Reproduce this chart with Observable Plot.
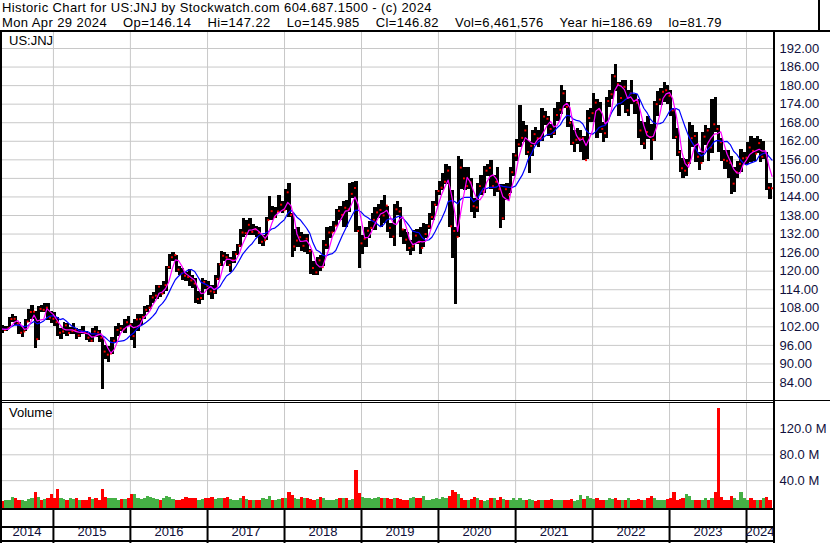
<!DOCTYPE html>
<html><head><meta charset="utf-8">
<script src="https://cdn.jsdelivr.net/npm/d3@7"></script>
<script src="https://cdn.jsdelivr.net/npm/@observablehq/plot@0.6"></script>
<style>
html,body{margin:0;padding:0;background:#fff;}
#wrap{position:relative;width:830px;height:543px;overflow:hidden;font-family:Arial,"Liberation Sans",sans-serif;background:#fff;}
.ln{position:absolute;background:#000;}
.hd{position:absolute;left:2px;font-size:13px;letter-spacing:0.4px;white-space:pre;line-height:15px;height:15px;color:#000;}
.pl{position:absolute;left:0;width:830px;}
.lbl{position:absolute;font-size:13px;line-height:15px;color:#000;}
</style></head><body>
<div id="wrap">
 <div id="price" class="pl" style="top:32px"></div>
 <div id="vol" class="pl" style="top:403px"></div>
 <div id="years" class="pl" style="top:509px"></div>
 <div class="hd" style="top:0">Historic Chart for US:JNJ by Stockwatch.com 604.687.1500 - (c) 2024</div>
 <div class="hd" style="top:15px">Mon Apr 29 2024    Op=146.14    Hi=147.22    Lo=145.985    Cl=146.82    Vol=6,461,576    Year hi=186.69    lo=81.79</div>
 <div class="lbl" style="left:9px;top:33px">US:JNJ</div>
 <div class="lbl" style="left:9px;top:405px">Volume</div>
 <div class="ln" style="left:0;top:30px;width:830px;height:2px"></div>
 <div class="ln" style="left:818px;top:0;width:2px;height:31px"></div>
 <div class="ln" style="left:0;top:30px;width:2px;height:513px"></div>
 <div class="ln" style="left:773px;top:30px;width:2px;height:513px"></div>
 <div class="ln" style="left:0;top:400px;width:830px;height:1px"></div>
 <div class="ln" style="left:0;top:402px;width:775px;height:1px"></div>
 <div class="ln" style="left:0;top:508px;width:775px;height:2px"></div>
 <div class="ln" style="left:0;top:526px;width:775px;height:2px"></div>
 <div class="ln" style="left:0;top:540px;width:775px;height:2px"></div>
</div>
<script>
// Half-monthly periods (1st-15th, 16th-end) from 2014-04-16 to 2024-04-30
const firstPeriod = [2014, 3, 16];
const lows = [
 98.0,100.0,100.5,101.5,103.5,102.5,99.5,98.5,100.5,103.5,104.5,95.1,97.5,106.5,106.5,104.0,103.0,
 102.0,99.0,98.0,99.5,99.0,99.5,99.5,98.0,98.5,99.5,97.5,96.8,97.0,98.5,97.0,81.8,91.5,90.5,93.0,97.0,99.0,100.5,100.0,102.0,
 97.5,95.0,100.5,102.5,104.5,106.5,107.5,109.5,111.0,111.5,112.5,113.5,120.5,123.0,119.5,118.5,117.0,116.5,115.0,114.5,109.5,109.3,110.5,114.0,
 112.0,110.8,112.5,117.0,121.5,123.0,121.5,119.5,122.5,125.0,127.5,131.0,131.5,131.5,131.5,131.0,128.5,128.0,130.0,136.5,136.5,137.0,139.0,138.5,
 139.5,137.5,124.5,126.5,127.5,126.5,126.0,125.5,119.0,118.6,118.7,120.0,121.5,127.0,130.5,132.5,134.5,136.5,134.0,134.0,139.0,143.5,132.5,121.0,
 125.5,127.5,130.5,133.5,133.0,137.0,134.0,135.5,132.5,130.5,128.0,138.0,131.0,128.5,126.5,125.0,126.5,128.5,125.5,127.5,130.5,133.5,136.5,141.0,
 144.5,146.0,148.0,134.0,124.0,109.2,131.0,146.5,146.0,146.5,139.0,137.0,139.0,144.5,145.0,150.5,146.5,144.0,145.5,133.7,136.5,143.0,145.0,150.5,
 155.5,160.0,161.5,157.5,151.5,157.0,160.5,160.0,162.0,167.0,163.5,163.0,164.0,168.5,170.5,172.5,166.5,160.5,158.5,161.0,158.5,155.7,156.0,168.0,
 168.0,163.0,164.5,161.5,163.0,173.0,175.5,178.0,170.0,173.5,171.0,170.0,174.0,170.5,163.0,160.5,159.5,162.5,155.7,162.0,170.0,173.5,174.5,174.0,
 170.0,162.5,157.0,152.0,150.1,150.5,154.5,160.0,155.0,152.5,155.0,160.5,155.5,158.0,165.0,158.5,155.5,153.0,150.0,144.95,145.5,150.0,152.0,154.5,
 154.5,155.0,155.5,158.0,155.0,156.0,146.0,143.1
];
const highs = [
 101.8,102.5,102.0,105.0,106.0,105.5,103.5,102.0,104.5,107.5,108.9,107.0,108.5,109.0,109.5,109.5,106.8,
 106.5,105.0,101.5,103.5,103.0,101.8,103.0,101.5,101.0,102.0,100.5,100.0,101.5,102.0,100.8,99.0,96.0,95.5,98.5,102.0,103.0,102.5,104.5,105.5,
 103.0,104.5,106.0,106.0,108.5,109.0,112.0,113.0,115.5,115.5,116.5,121.5,125.5,126.1,125.0,121.5,121.0,119.5,120.5,118.5,117.5,113.5,117.5,117.0,
 116.5,115.5,118.5,122.5,126.5,126.0,125.5,124.5,126.5,128.5,133.5,137.0,136.5,137.0,135.0,134.5,134.0,131.5,137.5,144.3,141.0,140.5,144.5,142.5,
 146.5,148.3,138.5,133.5,134.0,132.5,132.0,132.0,127.0,123.0,124.5,125.0,130.0,134.0,134.5,136.0,140.0,141.0,142.5,143.0,148.3,148.8,148.9,134.5,
 131.5,134.0,136.0,138.5,140.5,141.5,143.0,144.5,141.0,135.5,141.5,142.5,140.5,133.5,132.5,130.0,133.0,133.5,134.0,135.5,135.0,138.5,142.5,146.0,
 149.0,151.5,154.5,154.0,146.0,134.0,157.0,156.0,153.5,153.5,150.0,143.5,148.5,151.0,154.0,154.5,155.9,151.0,153.5,148.0,148.0,148.5,153.5,158.0,
 162.5,173.6,168.5,167.0,162.0,165.5,166.5,165.5,172.5,171.5,170.0,167.5,172.5,174.5,179.9,178.5,174.5,168.5,165.5,166.0,165.5,163.5,172.0,172.5,
 177.5,175.5,174.5,168.0,176.0,178.5,183.5,186.7,181.0,181.5,181.5,178.5,181.5,177.0,175.5,168.5,168.0,170.0,167.5,175.0,178.0,179.0,180.9,180.0,
 178.5,172.5,166.0,159.0,156.5,156.0,168.0,167.0,165.0,158.5,165.0,167.0,166.0,175.5,176.0,167.0,163.0,159.0,159.0,157.0,153.5,155.5,159.5,158.5,
 161.5,163.5,163.0,163.5,162.5,162.0,158.5,148.5
];
const closes = [
 101.3,101.0,101.5,104.5,104.6,103.0,100.1,100.5,103.7,106.8,106.9,98.0,107.8,107.5,108.2,105.0,104.6,
 103.5,100.1,100.5,102.5,100.0,100.6,101.0,99.2,100.5,100.1,98.5,97.5,100.5,100.2,98.5,94.0,93.0,93.4,97.5,101.0,101.5,101.2,103.5,102.7,
 99.0,104.4,104.5,105.2,107.5,108.2,111.5,112.1,115.0,112.7,115.5,121.3,124.5,125.2,120.5,119.3,118.5,118.1,117.0,116.0,111.0,111.3,116.5,115.2,
 113.5,113.2,117.5,122.2,125.0,124.5,122.0,123.5,125.5,128.2,132.5,132.3,135.0,132.7,133.5,132.4,129.5,130.0,136.5,139.4,137.5,139.3,141.5,139.7,
 145.5,138.2,128.0,129.9,131.0,128.2,130.5,126.5,121.0,119.6,123.5,121.3,128.5,132.5,132.5,134.7,139.5,138.2,140.5,140.0,145.0,146.9,133.0,129.0,
 130.5,133.1,134.0,136.6,139.0,139.8,138.0,141.2,134.0,131.2,140.0,139.3,133.5,130.2,127.5,128.0,131.5,129.4,127.5,132.0,134.5,137.5,141.5,145.9,
 147.0,148.9,152.5,134.5,133.0,131.1,153.5,150.0,147.5,148.7,141.0,140.6,147.5,145.8,152.5,153.4,147.5,148.9,146.5,137.1,146.5,144.7,152.0,157.4,
 161.0,163.1,165.5,158.5,160.5,164.3,163.0,162.7,170.0,169.3,166.0,164.7,170.5,172.2,177.5,173.1,168.0,161.5,162.5,162.9,163.0,155.9,169.5,171.1,
 174.5,172.3,166.0,164.6,175.0,177.2,183.0,180.5,176.0,179.6,172.0,177.5,175.0,174.5,165.5,161.3,165.0,163.4,162.5,174.0,175.5,178.0,178.5,176.7,
 172.0,163.4,158.5,153.3,152.5,155.0,163.0,163.7,157.0,155.0,163.5,165.5,160.0,167.5,166.0,161.7,156.0,155.7,155.0,148.3,152.0,154.7,156.5,156.7,
 160.0,158.9,158.0,161.4,157.0,158.2,147.0,146.8
];
// peak daily volume in each half-month, millions of shares
const volumes = [
 9,8,10,9,14,12,10,9,8,11,13,21,14,10,11,13,18,
 12,26,12,11,10,13,11,12,10,9,10,14,11,12,9,26,14,13,12,13,10,11,11,13,
 18,19,12,11,12,15,14,13,11,10,12,16,14,11,10,9,11,14,12,13,13,10,11,13,
 12,14,11,12,12,13,14,11,10,9,12,16,11,10,9,9,10,12,11,16,10,9,11,13,
 12,21,17,12,11,14,13,12,11,10,11,14,13,10,9,9,11,12,12,12,10,11,55,20,
 14,13,12,11,13,14,12,13,12,11,12,13,11,10,10,12,14,12,13,16,10,9,11,12,
 11,14,12,16,24,22,19,13,10,10,11,14,12,10,8,9,12,13,10,14,11,9,10,12,
 9,12,10,9,11,10,8,9,10,9,9,11,9,10,9,9,9,11,8,9,17,11,15,12,
 11,12,9,10,10,12,11,13,10,9,10,12,9,10,11,10,9,12,16,12,10,9,9,11,
 12,22,10,11,12,18,15,10,9,10,9,12,10,13,22,152,14,10,10,15,12,9,21,12,
 10,12,9,10,10,13,14,10
];
const priceTicks = [84,90,96,102,108,114,120,126,132,138,144,150,156,162,168,174,180,186,192];
const volumeTicks = [40,80,120];
const yearLabels = [2014,2015,2016,2017,2018,2019,2020,2021,2022,2023,2024];
const viewStart = [2014, 3, 25];
const viewEnd = [2024, 4, 8];
const shortMA = 3;   // half-months
const longMA = 8;    // half-months

const utc = a => new Date(Date.UTC(a[0], a[1], a[2]));
const xDomain = [utc(viewStart), utc(viewEnd)];
const xRange = [0, 773];

// period boundaries
const bounds = [];
{
  let d = utc(firstPeriod);
  for (let i = 0; i <= closes.length; i++) {
    bounds.push(d);
    d = d.getUTCDate() === 1
      ? new Date(Date.UTC(d.getUTCFullYear(), d.getUTCMonth(), 16))
      : new Date(Date.UTC(d.getUTCFullYear(), d.getUTCMonth() + 1, 1));
  }
}
const rows = closes.map((c, i) => ({
  start: bounds[i], end: bounds[i + 1], lo: lows[i], hi: highs[i], close: c,
  vol: volumes[i], up: i === 0 || c >= closes[i - 1]
}));
const yearStarts = yearLabels.slice(1).map(y => new Date(Date.UTC(y, 0, 1)));
const yearMid = yearLabels.map(y => {
  const a = Math.max(+new Date(Date.UTC(y, 0, 1)), +xDomain[0]);
  const b = Math.min(+new Date(Date.UTC(y + 1, 0, 1)), +xDomain[1]);
  return {year: String(y), x: new Date((a + b) / 2)};
});

const FONT = "Arial, 'Liberation Sans', sans-serif";
const GRID = "#c8c8c8";
const LABEL = "#10103c";

// price panel: 192 -> y16, 84 -> y350
const pxPerUnit = 334 / 108;
const priceDomain = [84 - 18 / pxPerUnit, 192 + 16 / pxPerUnit];

const price = Plot.plot({
  width: 830, height: 368,
  marginTop: 0, marginBottom: 0, marginLeft: 0, marginRight: 57,
  style: {fontFamily: FONT, fontSize: "13px", background: "transparent", overflow: "visible"},
  x: {type: "utc", domain: xDomain, range: xRange, axis: null},
  y: {domain: priceDomain, range: [368, 0], axis: null},
  marks: [
    Plot.ruleY(priceTicks, {stroke: GRID, strokeWidth: 1}),
    Plot.ruleX(yearStarts, {stroke: GRID, strokeWidth: 1}),
    Plot.rect(rows, {x1: "start", x2: "end", y1: "lo", y2: "hi", fill: "#000", shapeRendering: "crispEdges"}),
    Plot.dot(rows, {x: "end", y: "close", symbol: "square", r: 1.1, fill: "#ff0000", stroke: "none"}),
    Plot.lineY(rows, Plot.windowY({k: longMA, anchor: "end", reduce: "mean"}, {x: "end", y: "close", stroke: "#0000ff", strokeWidth: 1.2})),
    Plot.lineY(rows, Plot.windowY({k: shortMA, anchor: "end", reduce: "mean"}, {x: "end", y: "close", stroke: "#ff00ff", strokeWidth: 1.2})),
    Plot.text(priceTicks, {y: d => d, text: d => d.toFixed(2), frameAnchor: "right", textAnchor: "start", dx: 6, fontSize: 13, fill: LABEL})
  ]
});
document.getElementById("price").appendChild(price);

// volume panel: 40M per 25.9px, zero at y=506 (page)
const pxPerM = 51.7 / 80;
const volDomain = [-2 / pxPerM, 103 / pxPerM];
const vol = Plot.plot({
  width: 830, height: 105,
  marginTop: 0, marginBottom: 0, marginLeft: 0, marginRight: 57,
  style: {fontFamily: FONT, fontSize: "13px", background: "transparent", overflow: "visible"},
  x: {type: "utc", domain: xDomain, range: xRange, axis: null},
  y: {domain: volDomain, range: [105, 0], axis: null},
  marks: [
    Plot.ruleY(volumeTicks, {stroke: GRID, strokeWidth: 1}),
    Plot.ruleX(yearStarts, {stroke: GRID, strokeWidth: 1}),
    Plot.rect(rows, {x1: "start", x2: "end", y1: volDomain[0], y2: "vol", fill: d => d.up ? "#45b045" : "#ff0000", shapeRendering: "crispEdges"}),
    Plot.text(volumeTicks, {y: d => d, text: d => d.toFixed(1) + " M", frameAnchor: "right", textAnchor: "start", dx: 6, fontSize: 13, fill: LABEL})
  ]
});
document.getElementById("vol").appendChild(vol);

// year strip
const yrs = Plot.plot({
  width: 830, height: 34,
  marginTop: 0, marginBottom: 0, marginLeft: 0, marginRight: 57,
  style: {fontFamily: FONT, fontSize: "13px", background: "transparent", overflow: "visible"},
  x: {type: "utc", domain: xDomain, range: xRange, axis: null},
  marks: [
    Plot.ruleX(yearStarts, {stroke: "#000", strokeWidth: 2}),
    Plot.text(yearMid, {x: "x", text: "year", frameAnchor: "bottom", dy: -8, fontSize: 13, fill: LABEL})
  ]
});
document.getElementById("years").appendChild(yrs);
</script>
</body></html>
